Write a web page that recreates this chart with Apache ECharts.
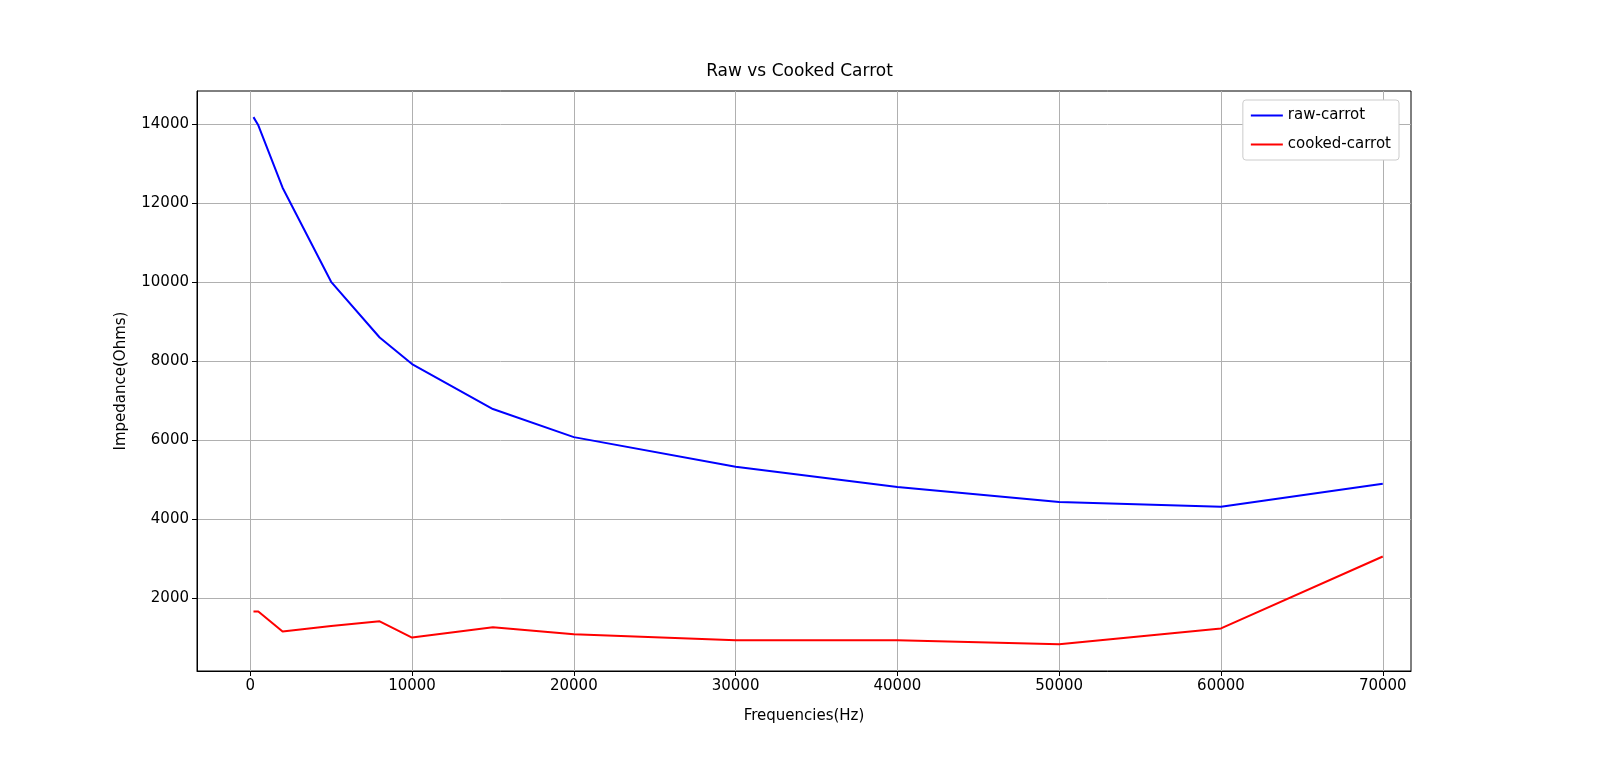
<!DOCTYPE html><html><head><meta charset="utf-8"><script src="https://cdn.jsdelivr.net/npm/echarts@6/dist/echarts.min.js"></script>
<style>html,body{margin:0;padding:0;background:#fff}#c{width:1599px;height:771px}</style></head><body><div id="c"></div><script>
const freqs=[200,500,2000,5000,8000,10000,15000,20000,30000,40000,50000,60000,70000];
const raw=[14176,13970,12390,10010,8600,7930,6790,6080,5330,4820,4440,4320,4900];
const cooked=[1670,1670,1160,1300,1420,1010,1270,1090,940,940,840,1240,3060];
const xTicks=[0,10000,20000,30000,40000,50000,60000,70000];
const yTicks=[2000,4000,6000,8000,10000,12000,14000];
const font='DejaVu Sans';
const ch=echarts.init(document.getElementById('c'));
const ax={axisLine:{show:true,onZero:false,lineStyle:{color:'#000',width:1}},
 splitLine:{show:true,lineStyle:{color:'#b0b0b0',width:1}},
 nameTextStyle:{color:'#000',fontFamily:font,fontSize:15}};
ch.setOption({animation:false,
 title:{text:'Raw vs Cooked Carrot',left:'center',top:58,textStyle:{fontFamily:font,fontSize:17,fontWeight:'normal',color:'#000'}},
 grid:{left:197,right:188,top:91,bottom:100,show:true,borderColor:'#000',borderWidth:1},
 legend:{right:200,top:100,orient:'vertical',itemWidth:32,itemHeight:2,itemGap:14,
  backgroundColor:'#fff',borderColor:'#ccc',borderWidth:1,borderRadius:3,padding:[8,8,8,8],
  textStyle:{fontFamily:font,fontSize:15,color:'#000'},icon:'rect'},
 xAxis:Object.assign({},ax,{type:'value',min:-3290,max:71745,name:'Frequencies(Hz)',nameLocation:'middle',nameGap:38,
  axisTick:{show:true,length:5,lineStyle:{color:'#000'},customValues:xTicks},
  axisLabel:{customValues:xTicks,formatter:v=>String(v),color:'#000',fontFamily:font,fontSize:15,margin:8}}),
 yAxis:Object.assign({},ax,{type:'value',min:163,max:14837,name:'Impedance(Ohms)',nameLocation:'middle',nameGap:68,
  axisTick:{show:true,length:5,lineStyle:{color:'#000'},customValues:yTicks},
  axisLabel:{customValues:yTicks,formatter:v=>String(v),color:'#000',fontFamily:font,fontSize:15,margin:8}}),
 series:[
  {name:'raw-carrot',type:'line',data:freqs.map((f,i)=>[f,raw[i]]),showSymbol:false,lineStyle:{color:'#0000ff',width:2},itemStyle:{color:'#0000ff'}},
  {name:'cooked-carrot',type:'line',data:freqs.map((f,i)=>[f,cooked[i]]),showSymbol:false,lineStyle:{color:'#ff0000',width:2},itemStyle:{color:'#ff0000'}}
 ]});
</script></body></html>
